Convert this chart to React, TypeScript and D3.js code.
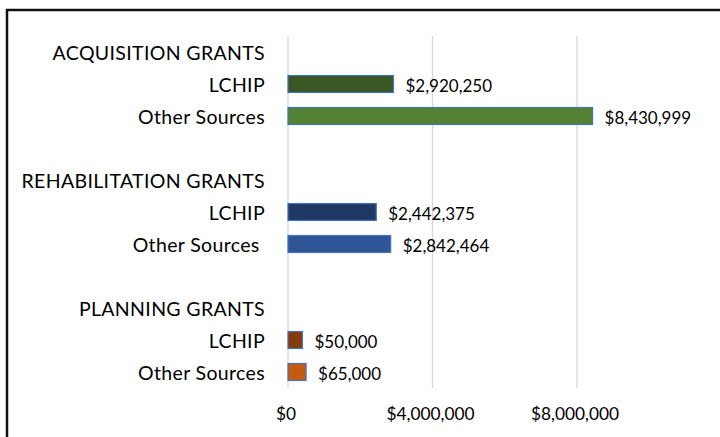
import React from "react";
import * as d3 from "d3";

// grant groups, top to bottom
const groups = ["ACQUISITION GRANTS", "REHABILITATION GRANTS", "PLANNING GRANTS"];
const lchipLabels = ["LCHIP", "LCHIP", "LCHIP"];
const otherLabels = ["Other Sources", "Other Sources ", "Other Sources"];

// reported amounts (used for the data labels)
const lchipAmounts = [2920250, 2442375, 50000];
const otherAmounts = [8430999, 2842464, 65000];

// bar lengths as drawn in the picture (planning bars are drawn longer than their amounts)
const lchipBars = [2920250, 2442375, 400000];
const otherBars = [8430999, 2842464, 500000];

const lchipColors = ["#385723", "#203864", "#843c0c"];
const otherColors = ["#548235", "#2f5597", "#c55a11"];

const xTicks = [0, 4000000, 8000000];

const App = () => {
    const width = 720;
    const height = 437;
    const font = "Lato, 'Open Sans', sans-serif";

    // build rows: header, LCHIP, Other, spacer...
    const rows: any[] = [];
    groups.forEach((g, i) => {
        rows.push({ key: `h${i}`, type: "header", label: g });
        rows.push({ key: `l${i}`, type: "bar", label: lchipLabels[i], bar: lchipBars[i], amount: lchipAmounts[i], color: lchipColors[i] });
        rows.push({ key: `o${i}`, type: "bar", label: otherLabels[i], bar: otherBars[i], amount: otherAmounts[i], color: otherColors[i] });
        if (i < groups.length - 1) rows.push({ key: `s${i}`, type: "spacer", label: "" });
    });

    const x = d3.scaleLinear().domain([0, 8000000]).range([288, 577]);
    const y = d3.scaleBand().domain(rows.map((r) => r.key)).range([36, 388]).paddingInner(0);
    const barH = y.bandwidth() * 0.53;
    const fmt = d3.format("$,");

    return (
        <svg width={width} height={height} style={{ position: "absolute", left: 0, top: 0, background: "#fff" }}>
            {/* frame */}
            <path d={`M7,${height} V10 H${width}`} fill="none" stroke="#111" strokeWidth={2.5} />

            {/* gridlines */}
            {xTicks.map((t) => (
                <line key={t} x1={x(t)} x2={x(t)} y1={36} y2={388} stroke="#d9d9d9" strokeWidth={1.3} />
            ))}

            {/* tick labels */}
            {xTicks.map((t) => (
                <text key={t} x={x(t) - 2} y={413} textAnchor="middle" dominantBaseline="central" fontFamily={font} fontSize="17.3px" fill="#000">
                    {fmt(t)}
                </text>
            ))}

            {rows.map((r) => {
                const cy = (y(r.key) as number) + y.bandwidth() / 2;
                return (
                    <g key={r.key}>
                        {r.label && (
                            <text x={265} y={cy} textAnchor="end" dominantBaseline="central" fontFamily={font} fontSize="19.5px" letterSpacing="0.35px" fill="#000" style={{ whiteSpace: "pre" }}>
                                {r.label}
                            </text>
                        )}
                        {r.type === "bar" && (
                            <>
                                <rect x={x(0)} y={cy - barH / 2} width={x(r.bar) - x(0)} height={barH} fill={r.color} stroke="#4472c4" strokeWidth={1.2} />
                                <text x={x(r.bar) + 12} y={cy + 1} dominantBaseline="central" fontFamily={font} fontSize="17px" fill="#000">
                                    {fmt(r.amount)}
                                </text>
                            </>
                        )}
                    </g>
                );
            })}
        </svg>
    );
};

export default App;
